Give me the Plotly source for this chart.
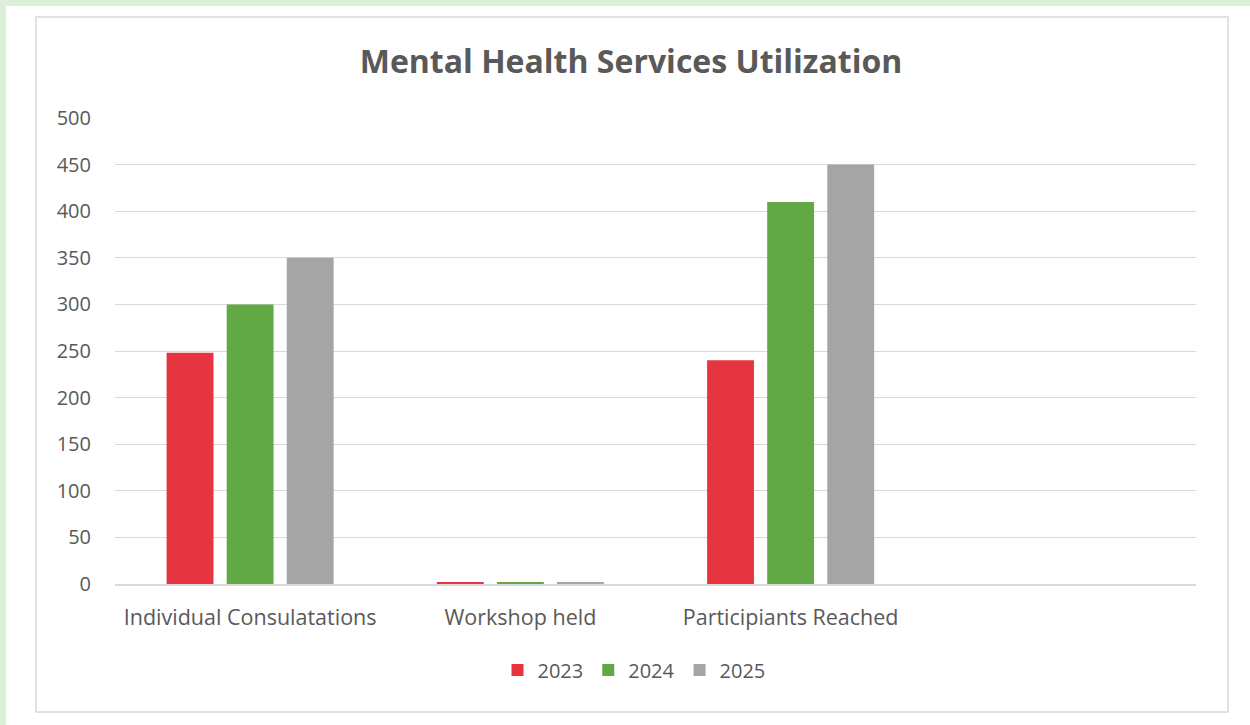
import plotly.graph_objects as go

# data
categories = ["Individual Consulatations", "Workshop held", "Participiants Reached", " "]
years = ["2023", "2024", "2025"]
values_2023 = [248, 2, 240, None]
values_2024 = [300, 2, 410, None]
values_2025 = [350, 2, 450, None]
colors = ["#E63440", "#62A845", "#A5A5A5"]

W, H = 1250, 725
L, R, T, B = 115, 1196, 118, 584


def px(x):
    return (x - L) / (R - L)


def py(y):
    return (B - y) / (B - T)


fig = go.Figure()
for name, vals, col in zip(years, [values_2023, values_2024, values_2025], colors):
    fig.add_trace(go.Bar(x=categories, y=vals, name=name, marker_color=col,
                         marker_line_width=0))

fig.update_layout(
    width=W, height=H,
    margin=dict(l=L, r=W - R, t=T, b=H - B),
    paper_bgcolor="white",
    plot_bgcolor="white",
    font=dict(family="Open Sans, Lato, sans-serif", color="#595959", size=20),
    title=dict(text="<b>Mental Health Services Utilization</b>", x=0.5048, xanchor="center",
               y=1 - 62 / H, yanchor="middle",
               font=dict(size=32, color="#595959")),
    barmode="group",
    bargap=0.333,
    bargroupgap=0.22,
    showlegend=True,
    legend=dict(orientation="h", x=px(634), xanchor="center", y=py(670), yanchor="middle",
                font=dict(size=20, color="#595959"), itemwidth=30, traceorder="normal"),
    xaxis=dict(showgrid=False, showline=True, linecolor="#D9D9D9", linewidth=1.5,
               ticks="", tickfont=dict(size=21.5, color="#595959"), ticklabelstandoff=13),
    yaxis=dict(range=[0, 500], dtick=50, showgrid=True, gridcolor="#D9D9D9", gridwidth=1,
               zeroline=False, showline=False, ticks="",
               tickfont=dict(size=20, color="#595959"), ticklabelstandoff=23),
    shapes=[
        # green page strips
        dict(type="rect", xref="paper", yref="paper", x0=px(0), x1=px(W), y0=py(0), y1=py(6),
             fillcolor="#DCEFD8", line_width=0, layer="below"),
        dict(type="rect", xref="paper", yref="paper", x0=px(0), x1=px(6), y0=py(0), y1=py(H),
             fillcolor="#DCEFD8", line_width=0, layer="below"),
        # chart border
        dict(type="rect", xref="paper", yref="paper", x0=px(36), x1=px(1228), y0=py(17), y1=py(712),
             line=dict(color="#D9D9D9", width=1.5), fillcolor="rgba(0,0,0,0)", layer="below"),
    ],
)

# drop the default page margin so the figure sits at the window's corner
fig.write_html("out.html", config={"displayModeBar": False},
               post_script="document.body.style.margin='0';")
